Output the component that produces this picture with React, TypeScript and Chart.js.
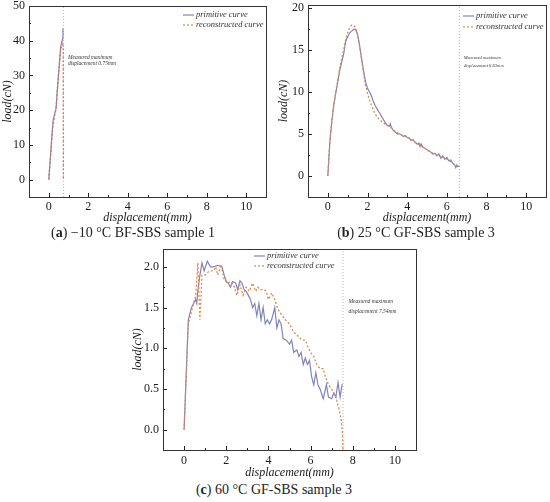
import React, { useEffect, useRef } from "react";
import { Chart, registerables } from "chart.js";
Chart.register(...registerables);

// ---------- data ----------
const X_TICKS = [0, 2, 4, 6, 8, 10];
const A_Y_TICKS = [0, 10, 20, 30, 40, 50];
const B_Y_TICKS = [0, 5, 10, 15, 20];
const C_Y_TICKS = [0, 0.5, 1.0, 1.5, 2.0];

// (a) -10 °C BF-SBS sample 1
const A_PRIM_X = [0, 0.08, 0.15, 0.22, 0.3, 0.37, 0.45, 0.52, 0.6, 0.65, 0.7, 0.72];
const A_PRIM_Y = [0, 6, 12, 17, 19, 20.5, 27, 32, 38, 39.5, 40.5, 43.5];
const A_REC_X = [0, 0.1, 0.2, 0.3, 0.37, 0.45, 0.52, 0.6, 0.65, 0.7, 0.73, 0.74];
const A_REC_Y = [0, 7.5, 15, 18.5, 20.5, 27, 32, 37, 39, 39.5, 38.5, 0];
const A_MAX_DISP = 0.75;

// (b) 25 °C GF-SBS sample 3
const B_PRIM_X = [0, 0.05, 0.1, 0.2, 0.3, 0.45, 0.6, 0.8, 0.9, 1.0, 1.1, 1.2, 1.3, 1.4, 1.5, 1.6, 1.7, 1.8, 1.9, 2.0, 2.1, 2.2, 2.3, 2.4, 2.5, 2.6, 2.7, 2.8, 2.9, 3.0, 3.1, 3.15, 3.2, 3.3, 3.4, 3.5, 3.6, 3.7, 3.8, 3.9, 4.0, 4.1, 4.2, 4.3, 4.4, 4.5, 4.6, 4.65, 4.7, 4.8, 4.9, 5.0, 5.1, 5.2, 5.3, 5.4, 5.5, 5.6, 5.7, 5.8, 5.9, 6.0, 6.1, 6.2, 6.3, 6.4, 6.45, 6.5, 6.55, 6.63];
const B_PRIM_Y = [0, 2, 4, 6.5, 8.5, 10.5, 12.5, 14.5, 16, 16.5, 17, 17.2, 17.4, 17.4, 16.8, 15.5, 14, 12.5, 11.2, 10.4, 10, 9.5, 8.8, 8.3, 7.9, 7.5, 7.1, 6.7, 6.3, 6.0, 5.9, 6.2, 5.8, 5.4, 5.2, 5.0, 5.0, 4.9, 4.7, 4.8, 4.6, 4.5, 4.2, 4.3, 4.0, 3.8, 3.9, 3.5, 3.8, 3.4, 3.3, 3.1, 3.0, 2.8, 2.6, 2.7, 2.4, 2.6, 2.1, 2.4, 2.0, 2.2, 1.8, 1.9, 1.5, 1.3, 1.0, 1.3, 1.1, 1.2];
const B_REC_X = [0, 0.1, 0.2, 0.4, 0.6, 0.8, 0.9, 1.0, 1.1, 1.2, 1.3, 1.4, 1.5, 1.6, 1.7, 1.8, 1.9, 2.0, 2.1, 2.2, 2.3, 2.4, 2.5, 2.6, 2.7, 2.8, 3.0, 3.2, 3.4, 3.6, 3.8, 4.0, 4.2, 4.4, 4.6, 4.8, 5.0, 5.2, 5.4, 5.6, 5.8, 6.0, 6.2, 6.4, 6.6];
const B_REC_Y = [0, 4, 6.5, 10, 12.8, 15, 16.2, 17, 17.6, 17.9, 17.9, 17.6, 16.8, 15.4, 13.8, 12.2, 10.8, 9.8, 9.0, 8.4, 7.8, 7.3, 7.0, 6.7, 6.5, 6.3, 6.0, 5.7, 5.3, 5.0, 4.8, 4.6, 4.3, 4.0, 3.7, 3.4, 3.1, 2.8, 2.6, 2.4, 2.2, 2.0, 1.7, 1.3, 1.2];
const B_MAX_DISP = 6.63;

// (c) 60 °C GF-SBS sample 3
const C_PRIM_X = [0, 0.2, 0.35, 0.45, 0.55, 0.6, 0.65, 0.75, 0.85, 0.95, 1.1, 1.25, 1.4, 1.6, 1.8, 1.9, 2.0, 2.1, 2.2, 2.3, 2.45, 2.55, 2.65, 2.75, 2.85, 2.95, 3.05, 3.15, 3.25, 3.35, 3.45, 3.55, 3.65, 3.75, 3.85, 3.95, 4.05, 4.15, 4.3, 4.4, 4.5, 4.6, 4.7, 4.85, 5.0, 5.1, 5.2, 5.35, 5.45, 5.55, 5.65, 5.75, 5.85, 5.95, 6.05, 6.15, 6.25, 6.35, 6.45, 6.6, 6.75, 6.85, 7.0, 7.1, 7.2, 7.3, 7.4, 7.5];
const C_PRIM_Y = [0, 1.35, 1.5, 1.55, 1.6, 1.55, 1.7, 1.9, 2.05, 1.95, 2.07, 2.0, 2.0, 2.02, 2.0, 1.9, 1.82, 1.8, 1.75, 1.82, 1.8, 1.72, 1.83, 1.8, 1.72, 1.7, 1.65, 1.6, 1.5, 1.55, 1.4, 1.55, 1.35, 1.5, 1.3, 1.35, 1.3, 1.35, 1.5, 1.25, 1.35, 1.3, 1.12, 1.1, 1.05, 1.1, 0.95, 0.98, 0.9, 0.95, 0.8, 0.88, 0.8, 0.85, 0.65, 0.55, 0.7, 0.55, 0.5, 0.38, 0.55, 0.4, 0.38, 0.45, 0.4, 0.58, 0.4, 0.56];
const C_REC_X = [0, 0.2, 0.4, 0.55, 0.65, 0.75, 0.85, 1.0, 1.2, 1.4, 1.5, 1.6, 1.75, 1.9, 2.05, 2.2, 2.35, 2.5, 2.65, 2.8, 2.95, 3.1, 3.25, 3.4, 3.5, 3.6, 3.8, 3.9, 4.0, 4.15, 4.3, 4.45, 4.6, 4.8, 5.0, 5.2, 5.4, 5.6, 5.75, 5.9, 6.0, 6.15, 6.3, 6.45, 6.6, 6.7, 6.85, 7.0, 7.2, 7.35, 7.45, 7.5, 7.54];
const C_REC_Y = [0, 1.3, 1.5, 1.65, 2.05, 1.35, 1.9, 1.9, 1.95, 1.95, 2.0, 1.9, 2.03, 1.85, 1.8, 1.82, 1.78, 1.65, 1.78, 1.65, 1.75, 1.7, 1.8, 1.7, 1.75, 1.72, 1.72, 1.7, 1.6, 1.68, 1.6, 1.48, 1.42, 1.35, 1.3, 1.2, 1.15, 1.1, 1.1, 1.0, 0.95, 0.9, 0.8, 0.75, 0.75, 0.65, 0.55, 0.5, 0.4, 0.25, 0.12, 0.0, -0.25];
const C_MAX_DISP = 7.54;

const LEGEND_LABELS = ["primitive curve", "reconstructed curve"];

// ---------- styles ----------
const BLUE = "#8084bb";
const ORANGE = "#d98a4e";
const SERIF = "'Liberation Serif', 'Times New Roman', serif";
const TXT = "#1a1a1a";

const zip = (xs: number[], ys: number[]) => xs.map((x, i) => ({ x, y: ys[i] }));

const decor = {
  id: "decor",
  afterDatasetsDraw(chart: any, _args: any, o: any) {
    const { ctx, chartArea: ca, scales } = chart;
    const xs = scales.x, ys = scales.y;
    ctx.save();
    ctx.strokeStyle = "#222";
    ctx.lineWidth = 1;
    const xt = o.xTicks as number[];
    const yt = o.yTicks as number[];
    const xStep = xt[1] - xt[0], yStep = yt[1] - yt[0];
    ctx.beginPath();
    for (let v = xt[0] - xStep; v <= xt[xt.length - 1] + xStep; v += xStep / 2) {
      const px = Math.round(xs.getPixelForValue(v)) + 0.5;
      if (px <= ca.left + 1 || px >= ca.right - 1) continue;
      const major = xt.some((t) => Math.abs(t - v) < 1e-9);
      const L = major ? 4 : 2;
      ctx.moveTo(px, ca.bottom);
      ctx.lineTo(px, ca.bottom - L);
    }
    for (let v = yt[0] - yStep; v <= yt[yt.length - 1] + yStep + 1e-9; v += yStep / 2) {
      const py = Math.round(ys.getPixelForValue(v)) + 0.5;
      if (py <= ca.top + 1 || py >= ca.bottom - 1) continue;
      const major = yt.some((t) => Math.abs(t - v) < 1e-9);
      const L = major ? 4 : 2;
      ctx.moveTo(ca.left, py);
      ctx.lineTo(ca.left + L, py);
    }
    ctx.stroke();
    ctx.strokeStyle = "#333";
    ctx.strokeRect(Math.round(ca.left) + 0.5, Math.round(ca.top) + 0.5, Math.round(ca.right - ca.left), Math.round(ca.bottom - ca.top));
    ctx.fillStyle = "#333";
    ctx.font = `italic ${o.annSize}px ${SERIF}`;
    ctx.textBaseline = "middle";
    ctx.textAlign = "left";
    const ax = xs.getPixelForValue(o.annX);
    o.annLines.forEach((t: string, i: number) => {
      ctx.fillText(t, ax, ys.getPixelForValue(o.annY[i]));
    });
    ctx.font = `italic ${o.legSize}px ${SERIF}`;
    const lx = ca.left + o.legX;
    LEGEND_LABELS.forEach((lab, i) => {
      const ly = ca.top + o.legY + i * o.legGap;
      ctx.beginPath();
      ctx.strokeStyle = i === 0 ? BLUE : ORANGE;
      ctx.lineWidth = 1.2;
      ctx.setLineDash(i === 0 ? [] : [2, 2]);
      ctx.moveTo(lx, ly);
      ctx.lineTo(lx + 11, ly);
      ctx.stroke();
      ctx.setLineDash([]);
      ctx.fillStyle = "#333";
      ctx.fillText(lab, lx + 13, ly);
    });
    ctx.restore();
  },
};

type PanelCfg = {
  left: number; top: number; w: number; h: number;
  padT: number; padR: number; yAxisW: number; xAxisH: number;
  xTickPad: number; xTitlePadB: number; yTitlePadT: number;
  yMin: number; yMax: number; yTicks: number[]; yFmt: (v: number) => string;
  prim: { x: number; y: number }[]; rec: { x: number; y: number }[];
  recColor: string; maxDisp: number;
  annX: number; annY: number[]; annLines: string[]; annSize: number;
  legX: number; legY: number; legGap: number; legSize: number;
};

function Panel({ c }: { c: PanelCfg }) {
  const ref = useRef<HTMLCanvasElement>(null);
  useEffect(() => {
    const tickFont = { family: SERIF, size: 12 };
    const titleFont = { family: SERIF, size: 12, style: "italic" as const };
    const chart = new Chart(ref.current!, {
      type: "scatter",
      data: {
        datasets: [
          { label: LEGEND_LABELS[1], data: c.rec, showLine: true, borderColor: c.recColor, borderDash: [2, 2], borderWidth: 1.3, pointRadius: 0, order: 1 },
          { label: LEGEND_LABELS[0], data: c.prim, showLine: true, borderColor: BLUE, borderWidth: 1.2, pointRadius: 0, order: 2 },
          { label: "max", data: [{ x: c.maxDisp, y: c.yMin }, { x: c.maxDisp, y: c.yMax }], showLine: true, borderColor: "#b8b8b8", borderDash: [1, 2], borderWidth: 1, pointRadius: 0, order: 3 },
        ],
      } as any,
      options: {
        animation: false,
        responsive: false,
        devicePixelRatio: 1,
        layout: { padding: { left: 0, right: c.padR, top: c.padT, bottom: 0 } },
        plugins: {
          legend: { display: false },
          tooltip: { enabled: false },
          decor: {
            xTicks: X_TICKS, yTicks: c.yTicks,
            annX: c.annX, annY: c.annY, annLines: c.annLines, annSize: c.annSize,
            legX: c.legX, legY: c.legY, legGap: c.legGap, legSize: c.legSize,
          },
        } as any,
        scales: {
          x: {
            type: "linear", min: -1, max: 11,
            grid: { display: false, drawTicks: false },
            border: { display: false },
            afterBuildTicks: (s: any) => { s.ticks = X_TICKS.map((v) => ({ value: v })); },
            afterFit: (s: any) => { s.height = c.xAxisH; },
            ticks: { font: tickFont, color: TXT, padding: c.xTickPad, maxRotation: 0, autoSkip: false, callback: (v: any) => String(v) },
            title: { display: true, text: "displacement(mm)", font: titleFont, color: TXT, padding: { top: 0, bottom: c.xTitlePadB } },
          },
          y: {
            type: "linear", min: c.yMin, max: c.yMax,
            grid: { display: false, drawTicks: false },
            border: { display: false },
            afterBuildTicks: (s: any) => { s.ticks = c.yTicks.map((v) => ({ value: v })); },
            afterFit: (s: any) => { s.width = c.yAxisW; s.paddingTop = 0; s.paddingBottom = 0; },
            ticks: { font: tickFont, color: TXT, padding: 4, autoSkip: false, callback: (v: any) => c.yFmt(Number(v)) },
            title: { display: true, text: "load(cN)", font: titleFont, color: TXT, padding: { top: c.yTitlePadT, bottom: 0 } },
          },
        },
      } as any,
      plugins: [decor as any],
    });
    return () => chart.destroy();
  }, []);
  return (
    <div style={{ position: "absolute", left: c.left, top: c.top, width: c.w, height: c.h }}>
      <canvas ref={ref} width={c.w} height={c.h} style={{ width: c.w, height: c.h, display: "block" }} />
    </div>
  );
}

const PANELS: PanelCfg[] = [
  {
    left: 0, top: 0, w: 275, h: 226, padT: 6, padR: 9, yAxisW: 29, xAxisH: 29,
    xTickPad: 3, xTitlePadB: 1, yTitlePadT: 1,
    yMin: -5, yMax: 50, yTicks: A_Y_TICKS, yFmt: (v) => String(v),
    prim: zip(A_PRIM_X, A_PRIM_Y), rec: zip(A_REC_X, A_REC_Y), recColor: "#cf7556", maxDisp: A_MAX_DISP,
    annX: 0.97, annY: [35.3, 33.4], annLines: ["Measured maximum", "displacement 0.75mm"], annSize: 5.5,
    legX: 154, legY: 9, legGap: 10, legSize: 8.5,
  },
  {
    left: 275, top: 0, w: 275, h: 226, padT: 5, padR: 4, yAxisW: 33, xAxisH: 29,
    xTickPad: 3, xTitlePadB: 1, yTitlePadT: 2,
    yMin: -2.5, yMax: 20.3, yTicks: B_Y_TICKS, yFmt: (v) => String(v),
    prim: zip(B_PRIM_X, B_PRIM_Y), rec: zip(B_REC_X, B_REC_Y), recColor: ORANGE, maxDisp: B_MAX_DISP,
    annX: 6.85, annY: [14.0, 13.1], annLines: ["Measured maximum", "displacement 6.63mm"], annSize: 4.6,
    legX: 155, legY: 11, legGap: 11, legSize: 8.5,
  },
  {
    left: 125, top: 240, w: 300, h: 240, padT: 9, padR: 9, yAxisW: 38, xAxisH: 30,
    xTickPad: 4, xTitlePadB: 0, yTitlePadT: 6,
    yMin: -0.25, yMax: 2.22, yTicks: C_Y_TICKS, yFmt: (v) => v.toFixed(1),
    prim: zip(C_PRIM_X, C_PRIM_Y), rec: zip(C_REC_X, C_REC_Y), recColor: ORANGE, maxDisp: C_MAX_DISP,
    annX: 7.8, annY: [1.57, 1.45], annLines: ["Measured maximum", "displacement 7.54mm"], annSize: 5.5,
    legX: 91, legY: 7, legGap: 10, legSize: 8.5,
  },
];

const CAPTIONS = [
  { tag: "a", text: " −10 °C BF-SBS sample 1", cx: 133, cy: 233 },
  { tag: "b", text: " 25 °C GF-SBS sample 3", cx: 416, cy: 233 },
  { tag: "c", text: " 60 °C GF-SBS sample 3", cx: 274, cy: 490 },
];

export default function App() {
  return (
    <div style={{ position: "absolute", left: 0, top: 0, width: 550, height: 502, background: "#fff", overflow: "hidden" }}>
      {PANELS.map((p, i) => <Panel key={i} c={p} />)}
      {CAPTIONS.map((cp) => (
        <div key={cp.tag} style={{ position: "absolute", left: cp.cx - 120, top: cp.cy - 9, width: 240, height: 18, lineHeight: "18px", textAlign: "center", fontFamily: SERIF, fontSize: 14, fontWeight: 400, color: "#222", whiteSpace: "nowrap" }}>
          (<b>{cp.tag}</b>){cp.text}
        </div>
      ))}
    </div>
  );
}
